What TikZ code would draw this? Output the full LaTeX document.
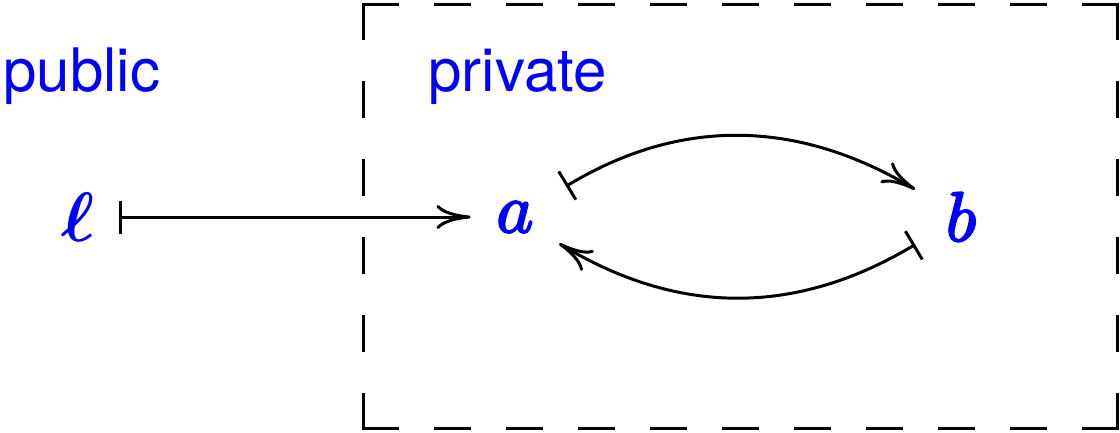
\RequirePackage{fix-cm}
\documentclass[tikz,border=0pt]{standalone}
\usepackage{bm}
\usepackage{fontspec}
\setsansfont{TeX Gyre Heros}
\usetikzlibrary{arrows.meta}

% math italic letters with an even, monoline stroke
\IfFontExistsTF{latinmodern-math.otf}
  {\newfontfamily\objfont{latinmodern-math.otf}[FakeBold=3]
   \newcommand\obja{\objfont 𝑎}\newcommand\objb{\objfont 𝑏}}
  {\newcommand\obja{$a$}\newcommand\objb{$b$}}

\tikzset{
  every picture/.style={line width=3pt},
  label text/.style={text=blue, font=\sffamily\fontsize{60}{70}\selectfont,
                     inner sep=0pt, anchor=base west},
  obj/.style={text=blue, font=\fontsize{70}{80}\selectfont, circle,
              inner sep=0pt, minimum size=#1},
  mapsto/.style={{Bar[width=33pt]}-{Computer Modern Rightarrow[length=34pt,width=24pt]}},
  region/.style={line width=3pt, line cap=rect},
}

\begin{document}
\begin{tikzpicture}[x=1pt,y=1pt]
  \useasboundingbox (0,0) rectangle (1120,432);

  % dashed boundary of the private part, each side dashed to fit its length
  \draw[region, dash pattern=on 34pt off 38pt]  (363,427) -- (1117,427);
  \draw[region, dash pattern=on 34pt off 38pt]  (1117,4) -- (363,4);
  \draw[region, dash pattern=on 34pt off 43.8pt] (363,427) -- (363,4);
  \draw[region, dash pattern=on 34pt off 43.8pt] (1117,4) -- (1117,427);

  % region labels
  \node[label text] (pub)  at (2,340)   {public};
  \node[label text] (priv) at (427,340) {private};

  % objects
  \node[obj=78pt]  (l) at (78,215)  {$\bm{\ell}$};
  \node[obj=100pt] (a) at (515,215) {\obja};
  \node[obj=104pt] (b) at (961,215) {\objb};

  % maps
  \draw[mapsto, shorten >=-7pt] (l) -- (a);
  \draw[mapsto, shorten <=8pt] (a) to[bend left=31] (b);
  \draw[mapsto] (b) to[bend left=31] (a);
\end{tikzpicture}
\end{document}
